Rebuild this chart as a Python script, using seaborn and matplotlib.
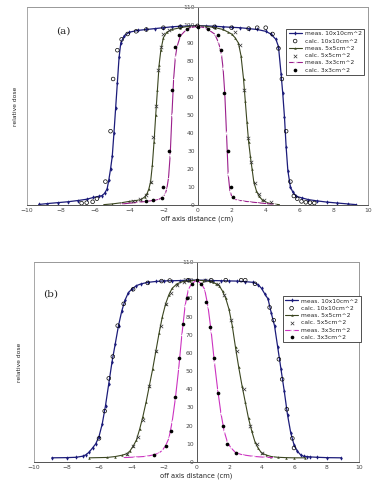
import numpy as np
import matplotlib
matplotlib.use('Agg')
import matplotlib.pyplot as plt
import seaborn as sns
from matplotlib.patches import Rectangle

# ===============================
# datos
# ===============================

# panel (a)
a_m10_x = [-9.3, -8.8, -8.2, -7.6, -7.0, -6.5, -6.1, -5.8, -5.6, -5.45, -5.3, -5.2, -5.1, -5.0, -4.9,
           -4.8, -4.7, -4.6, -4.5, -4.3, -4.0, -3.5, -3.0, -2.5, -2.0, -1.5, -1.0, -0.5, 0.0, 0.5,
           1.0, 1.5, 2.0, 2.5, 3.0, 3.5, 4.0, 4.3, 4.6, 4.75, 4.9, 5.0, 5.1, 5.2, 5.3, 5.45, 5.6,
           5.8, 6.1, 6.5, 7.0, 7.6, 8.2, 8.8, 9.3]
a_m10_y = [0.3, 0.8, 1.3, 1.8, 2.5, 3.2, 4.2, 4.8, 5.2, 6.5, 9, 14, 20, 27, 40,
           54, 68, 82, 90, 94, 96, 97, 97.5, 98, 98.5, 99, 99.3, 99.5, 99.6, 99.5,
           99.3, 99, 98.7, 98.5, 98, 97.5, 96.5, 95, 92, 88, 73, 62, 49, 32, 19, 10, 7,
           4.8, 4, 3, 2.3, 1.6, 1.1, 0.6, 0.2]
a_c10_x = [-6.8, -6.5, -6.15, -5.9, -5.4, -5.1, -4.95, -4.7, -4.45, -4.1, -3.6, -3.0, -2.0, -1.0, 0.0,
           1.0, 2.0, 3.0, 3.5, 4.0, 4.4, 4.75, 4.95, 5.2, 5.45, 5.65, 5.85, 6.1, 6.35, 6.6, 6.85]
a_c10_y = [1.0, 1.3, 1.8, 3.5, 13, 41, 70, 86, 92, 95, 96.5, 97.5, 98.5, 99, 99.5,
           99, 98.5, 98, 98.5, 98.5, 95, 87, 70, 41, 13, 5, 3.5, 2, 1.5, 1.3, 1.1]
a_m5_x = [-5.5, -5.0, -4.5, -4.0, -3.6, -3.3, -3.1, -2.95, -2.85, -2.75, -2.65, -2.55, -2.45, -2.35,
          -2.25, -2.15, -2.0, -1.8, -1.5, -1.0, -0.5, 0.0, 0.5, 1.0, 1.5, 1.8, 2.0, 2.2, 2.4, 2.55,
          2.7, 2.8, 2.9, 3.0, 3.1, 3.2, 3.3, 3.45, 3.6, 3.8, 4.1, 4.5, 4.8]
a_m5_y = [0.2, 0.6, 1.2, 2.0, 2.5, 3, 4.5, 6.5, 9, 13, 22, 35, 50, 64,
          78, 86, 93, 96, 97.5, 98.5, 99.3, 99.6, 99.3, 98.6, 97.5, 96, 95, 93, 90, 83,
          70, 58, 46, 35, 27, 20, 13, 8, 5, 2.8, 1.2, 0.5, 0.2]
a_c5_x = [-3.8, -3.4, -3.0, -2.75, -2.6, -2.45, -2.3, -2.15, -2.0, -1.7, 2.2, 2.5, 2.75, 2.95,
          3.15, 3.35, 3.6, 3.9, 4.3]
a_c5_y = [2.5, 3.5, 5.5, 13, 38, 55, 75, 88, 95, 97, 96, 89, 64, 37,
          24, 12, 6, 3, 1.5]
a_m3_x = [-4.5, -3.5, -3.0, -2.6, -2.3, -2.1, -2.0, -1.9, -1.8, -1.7, -1.6, -1.5, -1.4, -1.3, -1.2,
          -1.0, -0.7, -0.4, 0.0, 0.4, 0.7, 1.0, 1.2, 1.3, 1.4, 1.5, 1.6, 1.7, 1.8, 1.9, 2.0, 2.1,
          2.3, 2.6, 3.0, 3.5, 4.0, 4.5]
a_m3_y = [0.5, 1.5, 2, 2.5, 3, 4, 5, 6, 9, 15, 28, 50, 70, 82, 88,
          94, 97, 98.5, 99.3, 98.5, 97, 95, 91, 88, 84, 76, 62, 40, 17, 8, 5, 3.5,
          2.8, 2.3, 1.8, 1.3, 0.8, 0.4]
a_c3_x = [-3.0, -2.6, -2.1, -2.0, -1.7, -1.5, -1.3, -1.1, -0.6, 0.0, 0.6, 1.2, 1.35, 1.55, 1.8,
          1.94, 2.1]
a_c3_y = [2, 2.8, 4, 10, 30, 64, 88, 94.6, 98, 99, 98, 94.6, 86, 62, 30,
          10, 4.4]

# panel (b)
b_m10_x = [-8.9, -8.0, -7.4, -7.0, -6.8, -6.6, -6.4, -6.2, -6.0, -5.8, -5.6, -5.4, -5.2, -5.0,
           -4.8, -4.6, -4.4, -4.2, -4.0, -3.7, -3.4, -3.0, -2.5, -2.0, -1.5, -1.0, -0.5, 0.0,
           0.5, 1.0, 1.5, 2.0, 2.5, 3.0, 3.5, 3.8, 4.0, 4.2, 4.4, 4.6, 4.8, 5.0, 5.2, 5.4,
           5.6, 5.8, 6.0, 6.2, 6.4, 6.6, 6.8, 7.0, 7.4, 8.0, 8.9]
b_m10_y = [2.3, 2.4, 2.6, 3.2, 4, 5.5, 7.7, 10, 14, 21, 31, 43, 55, 65,
           75, 83, 89, 93, 95, 97, 98, 98.8, 99.3, 99.6, 99.7, 99.8, 100, 100,
           100, 99.8, 99.7, 99.6, 99.5, 99.2, 98.8, 97.5, 95.5, 92.5, 89.7, 82, 75, 63, 51, 39,
           26, 16, 9.5, 6, 4, 3.1, 3.0, 2.8, 2.6, 2.4, 2.3]
b_c10_x = [-6.0, -5.65, -5.4, -5.15, -4.85, -4.48, -3.9, -3.0, -2.15, -1.65, -0.5, 0.9, 1.8, 2.75,
           3.0, 3.6, 4.5, 4.75, 5.07, 5.27, 5.56, 5.9, 6.0]
b_c10_y = [13, 28, 46, 58, 75, 87, 95, 98.5, 99.5, 99.8, 100, 100, 100, 100,
           100, 98, 85, 78, 56.5, 45.5, 29, 13, 7.7]
b_m5_x = [-6.6, -5.5, -5.0, -4.6, -4.3, -4.1, -3.9, -3.7, -3.5, -3.3, -3.1, -2.9, -2.7, -2.5,
          -2.3, -2.1, -1.9, -1.7, -1.5, -1.2, -0.8, -0.4, 0.0, 0.4, 0.8, 1.0, 1.2, 1.4, 1.6,
          1.8, 2.0, 2.2, 2.4, 2.6, 2.8, 3.0, 3.2, 3.4, 3.6, 3.8, 4.0, 4.3, 4.6, 5.0, 5.5, 6.0, 6.7]
b_m5_y = [2.3, 2.5, 3, 3.7, 4.5, 6, 8.7, 12, 18, 25, 33, 42, 51, 61,
          71, 80, 87, 92, 95.5, 98, 99.4, 99.8, 100, 99.8, 99.3, 99, 98, 97, 94,
          90, 84, 75, 63, 52, 42, 33, 24, 17, 11, 7.5, 5, 3.8, 3, 2.6, 2.4, 2.3, 2.3]
b_c5_x = [-4.3, -3.9, -3.6, -3.3, -2.9, -2.5, -2.2, -1.9, -1.6, -1.2, -0.8, 0.5, 0.9, 1.3,
          1.7, 2.1, 2.5, 2.9, 3.3, 3.7, 4.0]
b_c5_y = [4.5, 9, 14, 23, 42, 61, 75, 87, 93, 97.5, 99, 100, 99.5, 98,
          92, 78, 61, 40, 20, 10, 5]
b_m3_x = [-4.5, -3.8, -3.1, -2.6, -2.3, -2.1, -1.9, -1.7, -1.5, -1.3, -1.1, -0.9, -0.7, -0.5,
          -0.3, 0.0, 0.3, 0.5, 0.7, 0.9, 1.1, 1.3, 1.5, 1.7, 1.9, 2.1, 2.4, 2.8, 3.5, 4.2, 4.7]
b_m3_y = [2.4, 2.7, 3.1, 4, 5, 6.5, 9, 13, 22, 35, 51, 70, 86, 95,
          98, 100, 98, 95, 86, 72, 55, 40, 27, 17, 11, 8, 5.2, 4, 3.1, 2.6, 2.4]
b_c3_x = [-2.6, -1.9, -1.6, -1.3, -1.05, -0.85, -0.6, -0.3, 0.0, 0.3, 0.6, 0.85, 1.05, 1.3,
          1.6, 1.9, 2.4]
b_c3_y = [4, 9, 17, 36, 57, 76, 90, 98, 100, 98, 88, 74, 57, 38,
          20, 10, 5]

etiquetas = ['meas. 10x10cm^2', 'calc. 10x10cm^2', 'meas. 5x5cm^2',
             'calc. 5x5cm^2', 'meas. 3x3cm^2', 'calc. 3x3cm^2']
x_ticks = list(range(-10, 11, 2))
y_ticks = list(range(0, 111, 10))

# ===============================
# estilo
# ===============================
sns.set_style('white')
plt.rcParams['font.family'] = ['DejaVu Sans']

fig = plt.figure(figsize=(3.76, 4.86), dpi=100)
ax_a = fig.add_axes([27 / 376, 1 - 205 / 486, 341 / 376, 198 / 486])
ax_b = fig.add_axes([34 / 376, 1 - 462 / 486, 325 / 376, 200 / 486])

navy = '#1c1c7a'
olivo = '#3b4620'


def panel(ax, datos, color3, letra, pos_letra, leg_pos, ylab_x):
    (m10x, m10y, c10x, c10y, m5x, m5y, c5x, c5y, m3x, m3y, c3x, c3y) = datos
    sns.lineplot(x=m10x, y=m10y, ax=ax, color=navy, lw=0.9, marker='d', markersize=2.2,
                 markeredgewidth=0, sort=False, estimator=None, label=etiquetas[0])
    sns.scatterplot(x=c10x, y=c10y, ax=ax, marker='o', s=7, facecolors='none',
                    edgecolor='black', linewidth=0.5, label=etiquetas[1], zorder=3)
    sns.lineplot(x=m5x, y=m5y, ax=ax, color=olivo, lw=0.8, marker='^', markersize=1.8,
                 markeredgewidth=0, sort=False, estimator=None, label=etiquetas[2])
    sns.scatterplot(x=c5x, y=c5y, ax=ax, marker='x', s=6, color='#333333',
                    linewidth=0.5, label=etiquetas[3], zorder=3)
    sns.lineplot(x=m3x, y=m3y, ax=ax, color=color3, lw=0.8, marker='+', markersize=2.2,
                 markeredgewidth=0.5, sort=False, estimator=None, label=etiquetas[4])
    sns.scatterplot(x=c3x, y=c3y, ax=ax, marker='o', s=7, color='black',
                    edgecolor='black', linewidth=0, label=etiquetas[5], zorder=3)

    ax.set_xlim(-10, 10)
    ax.set_ylim(0, 110)
    ax.set_xticks(x_ticks)
    ax.set_yticks(y_ticks)
    ax.set_xticks(np.arange(-10, 10.1, 0.5), minor=True)
    ax.tick_params(axis='both', labelsize=4.3, length=2.2, width=0.5, direction='inout',
                   colors='#444444', pad=1)
    ax.tick_params(axis='x', which='minor', length=1.2, width=0.4, direction='inout',
                   colors='#444444')

    # eje y en el centro, marco alrededor
    ax.spines['left'].set_position(('data', 0))
    for s in ['left', 'bottom']:
        ax.spines[s].set_color('#555555')
        ax.spines[s].set_linewidth(0.7)
    for s in ['top', 'right']:
        ax.spines[s].set_color('#999999')
        ax.spines[s].set_linewidth(0.6)
    ax.add_patch(Rectangle((0, 0), 1, 1, transform=ax.transAxes, fill=False,
                           edgecolor='#999999', lw=0.6, clip_on=False))

    ax.set_xlabel('off axis distance (cm)', fontsize=4.8, labelpad=2, color='#222222')
    ax.set_ylabel('')
    ax.text(ylab_x, 0.5, 'relative dose', transform=ax.transAxes, rotation=90,
            fontsize=4.3, ha='center', va='center', color='#222222')
    ax.text(pos_letra[0], pos_letra[1], letra, fontsize=7.5, family='serif',
            ha='center', va='center')

    leg = ax.legend(loc='upper left', bbox_to_anchor=leg_pos, fontsize=4.3, frameon=True,
                    fancybox=False, edgecolor='#333333', framealpha=1, handlelength=2.2,
                    borderpad=0.4, labelspacing=0.35, handletextpad=0.5, borderaxespad=0)
    leg.get_frame().set_linewidth(0.6)


panel(ax_a, (a_m10_x, a_m10_y, a_c10_x, a_c10_y, a_m5_x, a_m5_y, a_c5_x, a_c5_y,
             a_m3_x, a_m3_y, a_c3_x, a_c3_y),
      '#9b1f8c', '(a)', (-7.85, 96.5), (0.76, 0.89), -0.035)
panel(ax_b, (b_m10_x, b_m10_y, b_c10_x, b_c10_y, b_m5_x, b_m5_y, b_c5_x, b_c5_y,
             b_m3_x, b_m3_y, b_c3_x, b_c3_y),
      '#cc33c0', '(b)', (-8.95, 92.4), (0.765, 0.83), -0.045)

fig.savefig('out.png', dpi=100)
